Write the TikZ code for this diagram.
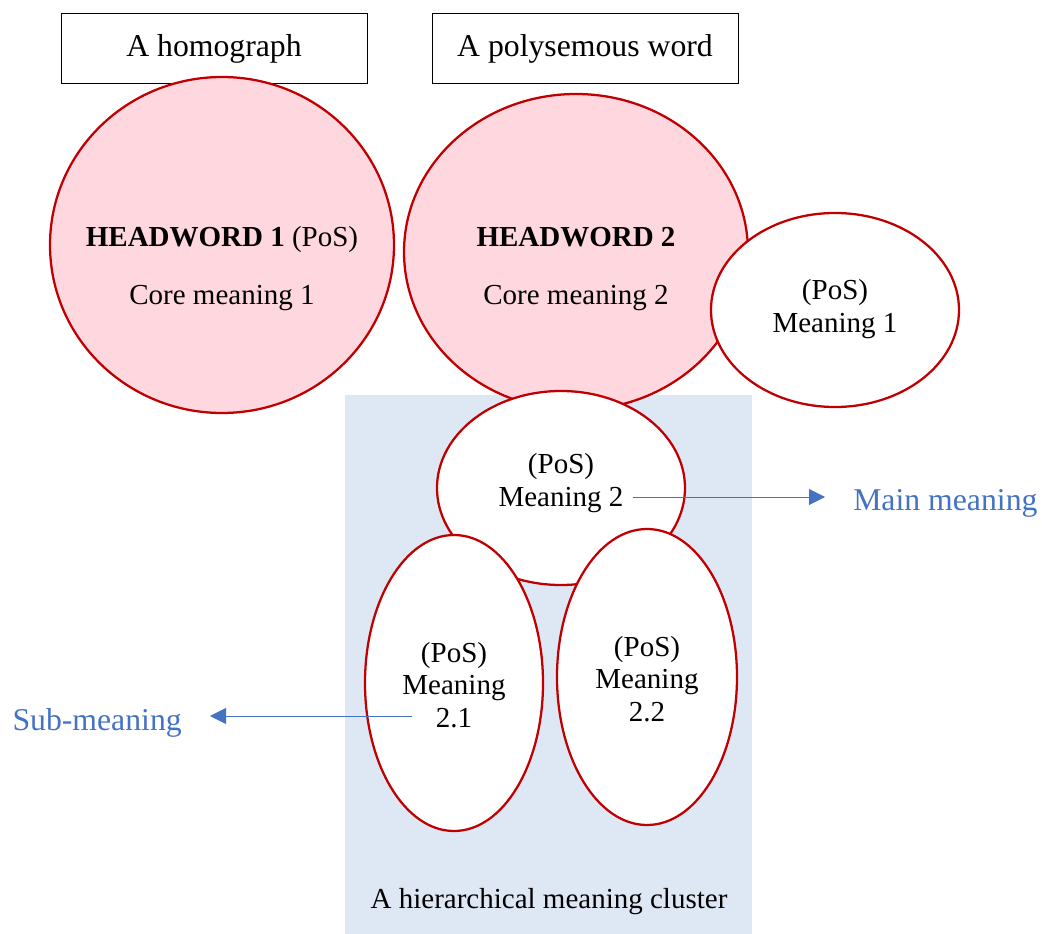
\documentclass[tikz,border=0pt]{standalone}
\usepackage{fontspec}
\setmainfont{Liberation Serif}
\usetikzlibrary{shapes.geometric,arrows.meta}
\definecolor{dred}{HTML}{C00000}
\definecolor{pinkf}{HTML}{FFD7DF}
\definecolor{clusterbg}{HTML}{DEE8F5}
\definecolor{lblue}{HTML}{4472C4}
\begin{document}
\begin{tikzpicture}[x=0.75pt,y=-0.75pt,
  bubble/.style={ellipse,draw=dred,line width=1.7pt,fill=white,inner sep=0pt},
  headbubble/.style={bubble,fill=pinkf},
  txt/.style={font=\fontsize{21.75}{24.5}\selectfont,align=center,inner sep=0pt},
  bigtxt/.style={txt,font=\fontsize{23.8}{26}\selectfont},
  bluetxt/.style={bigtxt,text=lblue},
  arr/.style={draw=lblue,line width=0.75pt,-{Triangle[length=12pt,width=12pt]}},
  titlebox/.style={bigtxt,draw=black,line width=0.75pt,minimum width=229.5pt,minimum height=52.5pt}]
\useasboundingbox (0,0) rectangle (1042,934);
% cluster background
\node[fill=clusterbg,minimum width=305.25pt,minimum height=404.25pt,inner sep=0pt,anchor=north west] (cluster) at (345,395) {};
\node[txt] (clusterlbl) at (549,902) {A hierarchical meaning cluster};
% title boxes
\node[titlebox] (homograph) at (214,49) {A homograph};
\node[titlebox] (polysemous) at (585,49) {A polysemous word};
% headwords
\node[headbubble,minimum width=258pt,minimum height=252pt] (hw1) at (222,245) {};
\node[txt] (hw1t) at (222,269) {\textbf{HEADWORD 1} (PoS)\\[19pt]Core meaning 1};
\node[headbubble,minimum width=258pt,minimum height=237pt] (hw2) at (576,252) {};
\node[txt] (hw2t) at (576,269) {\textbf{HEADWORD 2}\\[19pt]Core meaning 2};
% meanings
\node[bubble,minimum width=186pt,minimum height=145.5pt] (m1) at (835,310) {};
\node[txt] (m1t) at (835,309) {(PoS)\\Meaning 1};
\node[bubble,minimum width=186pt,minimum height=145.5pt] (m2) at (561,488) {};
\node[txt] (m2t) at (561,483) {(PoS)\\Meaning 2};
\node[bubble,minimum width=133.5pt,minimum height=222pt] (m21) at (454,683) {};
\node[txt] (m21t) at (454,685) {(PoS)\\Meaning\\2.1};
\node[bubble,minimum width=135pt,minimum height=222pt] (m22) at (647,677) {};
\node[txt] (m22t) at (647,679) {(PoS)\\Meaning\\2.2};
% side labels and arrows
\node[bluetxt,anchor=west] (mainlbl) at (853,503) {Main meaning};
\node[bluetxt,anchor=east] (sublbl) at (182,723) {Sub-meaning};
\coordinate (mainstart) at (633,497);
\coordinate (mainend) at (825,497);
\coordinate (substart) at (412,716);
\coordinate (subend) at (210,716);
\draw[arr] (mainstart) -- (mainend);
\draw[arr] (substart) -- (subend);
\end{tikzpicture}
\end{document}
